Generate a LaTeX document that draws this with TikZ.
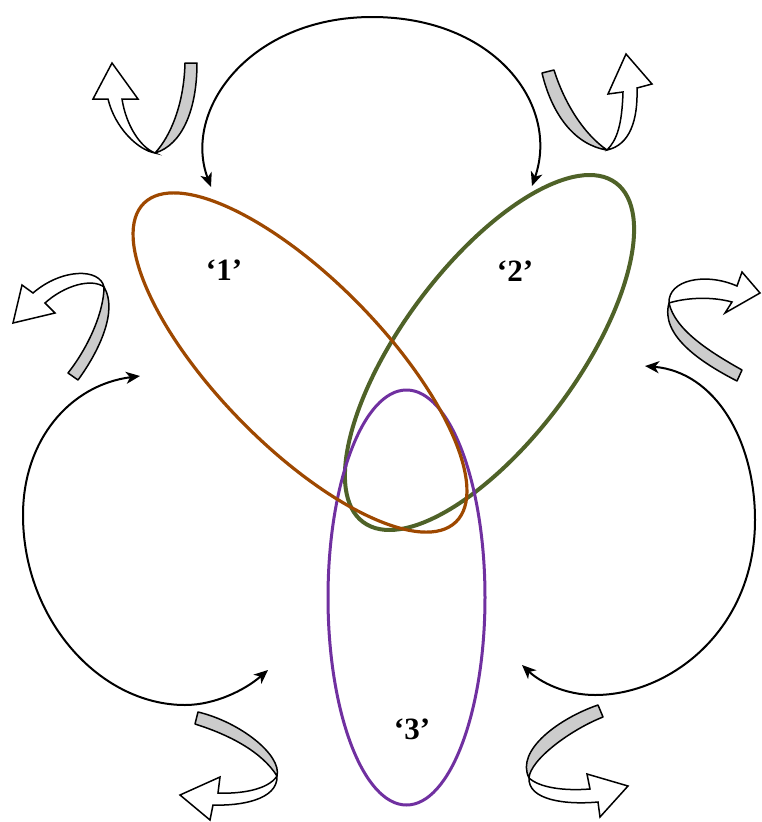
\documentclass[tikz,border=0pt]{standalone}
\usepackage{fontspec}
\setmainfont{Liberation Serif}
\usetikzlibrary{arrows.meta,shapes.geometric}
\definecolor{cone}{RGB}{158,72,0}
\definecolor{ctwo}{RGB}{79,98,40}
\definecolor{cthree}{RGB}{112,48,160}
\definecolor{band}{RGB}{204,204,204}
\begin{document}
\begin{tikzpicture}[x=1pt,y=-1pt,
  loopnode/.style={ellipse, draw, inner sep=0pt, outer sep=0pt},
  cyc/.style={draw=black, line width=2pt,
    {Stealth[length=14pt,width=12pt,inset=4pt]}-{Stealth[length=14pt,width=12pt,inset=4pt]}},
  back/.style={draw=black, fill=band, line width=1.5pt, line join=round},
  front/.style={draw=black, fill=white, line width=1.5pt, line join=miter},
  lbl/.style={font=\fontsize{31}{31}\selectfont\bfseries}]
\useasboundingbox (0,0) rectangle (761,822);

% loops
\node[loopnode, draw=ctwo, line width=4pt, rotate=53.3,
      minimum width=423pt, minimum height=175pt] (e2) at (489.5,352.5) {};
\node[loopnode, draw=cthree, line width=3pt,
      minimum width=157pt, minimum height=415pt] (e3) at (406.5,597.5) {};
\node[loopnode, draw=cone, line width=3.2pt, rotate=-45.6,
      minimum width=446pt, minimum height=166pt] (e1) at (300,362.5) {};

% labels
\node[lbl] (l1) at (224,270) {‘1’};
\node[lbl] (l2) at (515,271) {‘2’};
\node[lbl] (l3) at (412,729) {‘3’};

% cycle arrows
\coordinate (ta) at (211,187);
\coordinate (tb) at (532,186);
\coordinate (la) at (140,376);
\coordinate (lb) at (268,670);
\coordinate (ra) at (645,366);
\coordinate (rb) at (522,665);
\draw[cyc] (ta) .. controls (182,110) and (250,17) .. (372,17)
  .. controls (495,17) and (560,105) .. (tb);
\draw[cyc] (la) .. controls (70,385) and (23,440) .. (23,515)
  .. controls (23,620) and (100,705) .. (185,705)
  .. controls (215,705) and (245,690) .. (lb);
\draw[cyc] (ra) .. controls (715,372) and (755,440) .. (755,520)
  .. controls (755,630) and (670,695) .. (595,695)
  .. controls (565,695) and (540,682) .. (rb);

% curled ribbon arrows
% top left
\path[back] (185,63) -- (197,63) .. controls (197,110) and (182,145) .. (155,153)
  .. controls (170,137) and (184,105) .. (185,63) -- cycle;
\path[front] (155,153) .. controls (138,150) and (115,128) .. (108,99) -- (93,99)
  -- (112,63) -- (138,99) -- (122,99) .. controls (126,125) and (140,147) .. (155,153) -- cycle;
% top right
\path[back] (542,73) -- (554,70) .. controls (565,105) and (585,135) .. (607,150)
  .. controls (575,145) and (552,115) .. (542,73) -- cycle;
\path[front] (607,150) .. controls (630,145) and (638,120) .. (637,88) -- (652,84)
  -- (626,54) -- (608,94) -- (623,92) .. controls (622,125) and (617,140) .. (607,150) -- cycle;
% left
\path[back] (68,373) -- (78,380) .. controls (100,350) and (118,310) .. (104,287)
  .. controls (104,310) and (90,345) .. (68,373) -- cycle;
\path[front] (104,287) .. controls (100,268) and (62,268) .. (33,293) -- (22,285)
  -- (13,323) -- (55,313) -- (45,303) .. controls (65,285) and (92,278) .. (104,287) -- cycle;
% right
\path[back] (742,370) -- (737,381) .. controls (700,362) and (660,335) .. (669,303)
  .. controls (675,330) and (710,352) .. (742,370) -- cycle;
\path[front] (669,303) .. controls (668,280) and (705,272) .. (737,286) -- (742,272)
  -- (760,293) -- (725,313) -- (732,302) .. controls (710,296) and (685,298) .. (669,303) -- cycle;
% bottom left
\path[back] (198,712) -- (195,724) .. controls (230,735) and (262,752) .. (277,776)
  .. controls (282,755) and (240,722) .. (198,712) -- cycle;
\path[front] (277,776) .. controls (278,800) and (240,806) .. (213,805) -- (210,820)
  -- (180,795) -- (220,777) -- (218,793) .. controls (240,794) and (268,790) .. (277,776) -- cycle;
% bottom right
\path[back] (598,705) -- (603,717) .. controls (570,730) and (530,760) .. (529,778)
  .. controls (515,750) and (560,718) .. (598,705) -- cycle;
\path[front] (529,778) .. controls (528,800) and (565,805) .. (598,802) -- (600,817)
  -- (628,786) -- (587,774) -- (590,789) .. controls (565,791) and (540,788) .. (529,778) -- cycle;
\end{tikzpicture}
\end{document}
